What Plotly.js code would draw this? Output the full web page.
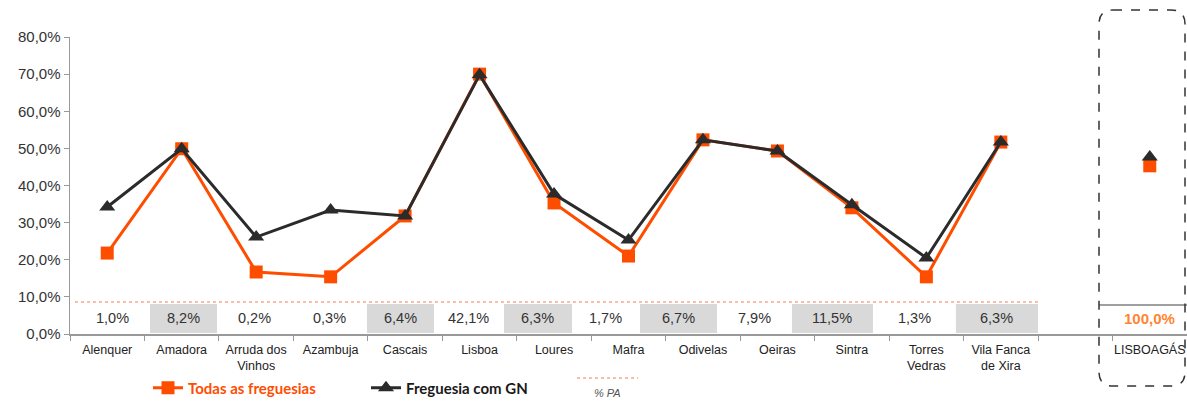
<!DOCTYPE html>
<html>
<head>
<meta charset="utf-8">
<script src="https://cdn.plot.ly/plotly-3.0.1.min.js"></script>
<style>
html,body{margin:0;padding:0;background:#fff;}
#chart{width:1187px;height:401px;}
</style>
</head>
<body>
<div id="chart"></div>
<script>
// ---- data ----
const categories = ['Alenquer','Amadora','Arruda dos<br>Vinhos','Azambuja','Cascais','Lisboa','Loures','Mafra','Odivelas','Oeiras','Sintra','Torres<br>Vedras','Vila Fanca<br>de Xira',' ','LISBOAGÁS'];
const todasFreguesias = [21.8,49.9,16.7,15.4,31.8,70.0,35.3,21.0,52.3,49.3,34.0,15.4,51.7,null,45.3];
const freguesiaComGN = [34.2,49.9,26.1,33.4,31.8,69.8,37.7,25.3,52.3,49.3,34.8,20.5,51.7,null,47.7];
const pctPA = [1.0,8.2,0.2,0.3,6.4,42.1,6.3,1.7,6.7,7.9,11.5,1.3,6.3];
const pctPATotal = 100.0;
const seriesNames = ['Todas as freguesias','Freguesia com GN'];

// ---- layout constants ----
const W = 1187, H = 401;
const L = 70, R = 1187, T = 37, B = 334;
const py = p => (B - p) / (B - T);          // pixel y -> paper y
const px = p => (p - L) / (R - L);          // pixel x -> paper x
const cellEdges = [-0.433,0.574,1.474,2.481,3.488,4.388,5.328,6.241,7.154,8.188,9.195,10.283,11.397,12.499];
const cellShade = [0,1,0,0,1,0,1,0,1,0,1,0,1];
const ORANGE = '#ff4d00', DARK = '#2b2b2b';
const fmt = v => v.toFixed(1).replace('.', ',') + '%';

const traces = [
  {x: categories, y: todasFreguesias, name: '<span style="color:#ff4d00">' + seriesNames[0] + '</span>',
   type: 'scatter', mode: 'lines+markers', connectgaps: false,
   line: {color: ORANGE, width: 3}, marker: {symbol: 'square', size: 13, color: ORANGE}},
  {x: categories, y: freguesiaComGN, name: '<span style="color:#1a1a1a">' + seriesNames[1] + '</span>',
   type: 'scatter', mode: 'lines+markers', connectgaps: false,
   line: {color: DARK, width: 3}, marker: {symbol: 'triangle-up', size: 14, color: DARK}}
];

const shapes = [];
const annotations = [];
for (let i = 0; i < pctPA.length; i++) {
  if (cellShade[i]) {
    shapes.push({type: 'rect', xref: 'x', yref: 'paper', x0: cellEdges[i], x1: cellEdges[i+1],
      y0: py(333), y1: py(304), fillcolor: '#d9d9d9', line: {width: 0}, layer: 'below'});
  }
  annotations.push({xref: 'x', yref: 'paper', x: (cellEdges[i] + cellEdges[i+1]) / 2, y: py(318),
    xanchor: 'center', yanchor: 'middle',
    text: fmt(pctPA[i]), showarrow: false, font: {family: 'Liberation Sans, Arial', size: 14.5, color: '#333'}});
}
// dotted line above table
shapes.push({type: 'line', xref: 'x', yref: 'paper', x0: cellEdges[0], x1: cellEdges[cellEdges.length-1],
  y0: py(302), y1: py(302), line: {color: '#f07a5a', width: 1, dash: 'dot'}});
// total cell line
shapes.push({type: 'line', xref: 'paper', yref: 'paper', x0: px(1099), x1: 1, y0: py(305), y1: py(305),
  line: {color: '#a0a0a0', width: 2}});
annotations.push({xref: 'x', yref: 'paper', x: 14, y: py(318), xanchor: 'center', yanchor: 'middle',
  text: '<b>' + fmt(pctPATotal) + '</b>',
  showarrow: false, font: {family: 'Liberation Sans, Arial', size: 15, color: '#ff8533'}});

// dashed rounded box
(function(){
  const x0 = px(1099), x1 = px(1185), y0 = py(386), y1 = py(10);
  const rx = 14 / (R - L), ry = 14 / (B - T);
  const path = `M ${x0+rx},${y1} L ${x1-rx},${y1} Q ${x1},${y1} ${x1},${y1-ry} L ${x1},${y0+ry} Q ${x1},${y0} ${x1-rx},${y0} L ${x0+rx},${y0} Q ${x0},${y0} ${x0},${y0+ry} L ${x0},${y1-ry} Q ${x0},${y1} ${x0+rx},${y1} Z`;
  shapes.push({type: 'path', xref: 'paper', yref: 'paper', path: path, line: {color: '#333', width: 1.5, dash: 'dash'}});
})();

// % PA legend item
shapes.push({type: 'line', xref: 'paper', yref: 'paper', x0: px(577), x1: px(638), y0: py(378), y1: py(378),
  line: {color: '#f07a5a', width: 1, dash: 'dot'}});
annotations.push({xref: 'paper', yref: 'paper', x: px(607), y: py(393), xanchor: 'center', yanchor: 'middle',
  text: '<i>% PA</i>', showarrow: false,
  font: {family: 'Liberation Sans, Arial', size: 11, color: '#555'}});

const layout = {
  width: W, height: H,
  margin: {l: L, r: 0, t: T, b: H - B, pad: 0, autoexpand: false},
  paper_bgcolor: '#fff', plot_bgcolor: 'rgba(0,0,0,0)',
  separators: ',.',
  showlegend: true,
  legend: {orientation: 'h', xref: 'container', yref: 'container', x: 148 / W, xanchor: 'left',
    y: 1 - 388 / H, yanchor: 'middle',
    bgcolor: 'rgba(0,0,0,0)', entrywidth: 173, entrywidthmode: 'pixels',
    font: {family: 'Lato, Open Sans, sans-serif', size: 15, weight: 'bold', color: '#222'}},
  xaxis: {type: 'category', categoryorder: 'array', categoryarray: categories,
    range: [-0.5, 14.5], tickson: 'boundaries', ticks: 'outside', ticklen: 5, tickcolor: '#999',
    tickangle: 0, ticklabelstandoff: 3,
    showline: true, linecolor: '#999', linewidth: 1.5, showgrid: false, automargin: false,
    tickfont: {family: 'Liberation Sans, Arial', size: 12.5, color: '#222'}, fixedrange: true},
  yaxis: {range: [0, 80], dtick: 10, tick0: 0, tickformat: '.1f', ticksuffix: '%',
    ticks: 'outside', ticklen: 5, tickcolor: '#999', showline: true, linecolor: '#999', linewidth: 1.5,
    showgrid: false, zeroline: false, automargin: false,
    tickfont: {family: 'Liberation Sans, Arial', size: 15, color: '#333'}},
  shapes: shapes,
  annotations: annotations
};

Plotly.newPlot('chart', traces, layout, {displayModeBar: false, staticPlot: true});
</script>
</body>
</html>
